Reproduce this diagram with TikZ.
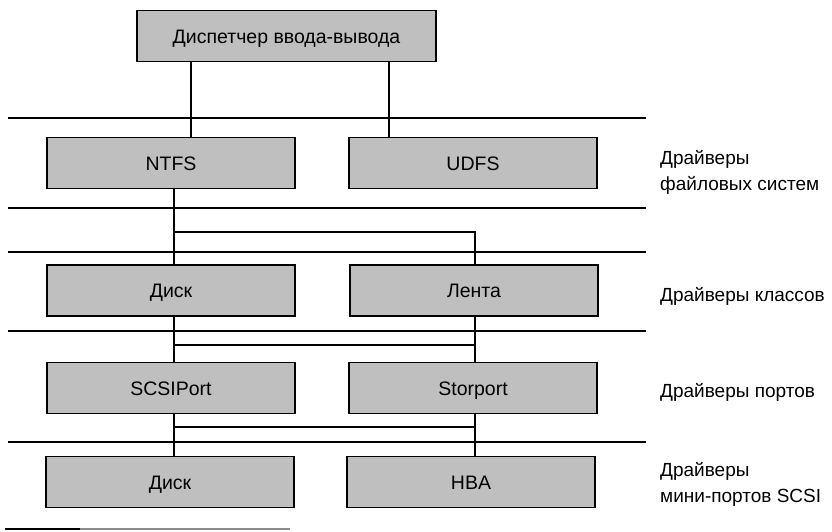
\documentclass[tikz,border=0pt]{standalone}
\usepackage{fontspec}
\setmainfont{Liberation Sans}
\begin{document}
\begin{tikzpicture}[x=1pt,y=-1pt,
  drv/.style={draw=black, line width=1.9pt, fill=black!25,
    minimum width=248pt, minimum height=51pt, inner sep=0pt,
    text height=14pt, text depth=0pt,
    font=\fontsize{19.5}{22}\selectfont},
  rule/.style={line width=1.7pt},
  link/.style={line width=1.6pt},
  tier/.style={anchor=west, align=left, inner sep=0pt,
    font=\fontsize{19}{26}\selectfont}]
\useasboundingbox (0,0) rectangle (832,531);

% driver boxes
\node[drv, minimum width=299pt] (iom) at (286.5,36) {Диспетчер ввода-вывода};
\node[drv] (ntfs)  at (171,163)   {NTFS};
\node[drv] (udfs)  at (473,163)   {UDFS};
\node[drv] (disk)  at (171,290.5) {Диск};
\node[drv] (tape)  at (474,290.5) {Лента};
\node[drv] (scsi)  at (171,388)   {SCSIPort};
\node[drv] (stor)  at (473,388)   {Storport};
\node[drv] (mdisk) at (170,482)   {Диск};
\node[drv] (hba)   at (471,482)   {HBA};

% layer captions
\node[tier] (lfs)  at (660,172) {Драйверы\\файловых систем};
\node[tier] (lcls) at (660,296) {Драйверы классов};
\node[tier] (lprt) at (660,392) {Драйверы портов};
\node[tier] (lmp)  at (660,484) {Драйверы\\мини-портов SCSI};

% layer separators
\foreach \y in {118,208,252,331,442}
  \draw[rule] (8,\y) -- (646,\y);
\draw[rule] (5,529) -- (80,529);
\draw[rule, black!45] (80,529) -- (290,529);

% vertical tracks
\coordinate (xa) at (191,0);
\coordinate (xb) at (389,0);
\coordinate (xl) at (174,0);
\coordinate (xr) at (475,0);
\coordinate (j1) at (0,232);
\coordinate (j2) at (0,345);
\coordinate (j3) at (0,427);

% connectors
\draw[link] (iom.south -| xa) -- (ntfs.north -| xa);
\draw[link] (iom.south -| xb) -- (udfs.north -| xb);
\draw[link] (ntfs.south -| xl) -- (disk.north -| xl);
\draw[link] (j1 -| xl) -- (j1 -| xr) -- (tape.north -| xr);
\draw[link] (disk.south -| xl) -- (scsi.north -| xl);
\draw[link] (tape.south -| xr) -- (stor.north -| xr);
\draw[link] (j2 -| xl) -- (j2 -| xr);
\draw[link] (scsi.south -| xl) -- (mdisk.north -| xl);
\draw[link] (stor.south -| xr) -- (hba.north -| xr);
\draw[link] (j3 -| xl) -- (j3 -| xr);
\end{tikzpicture}
\end{document}
